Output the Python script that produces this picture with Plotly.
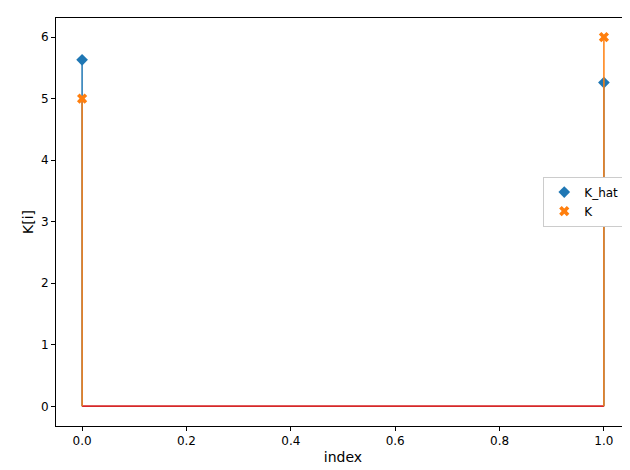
import plotly.graph_objects as go

index = [0, 1]
k_hat = [5.63, 5.26]
k = [5.0, 6.0]

blue = "#1f77b4"
orange = "#ff7f0e"
red = "#d62728"

def stem_xy(xs, ys):
    sx, sy = [], []
    for x, y in zip(xs, ys):
        sx += [x, x, None]
        sy += [0, y, None]
    return sx, sy

fig = go.Figure()
for name, vals, col, sym in [("K_hat", k_hat, blue, "diamond"), ("K", k, orange, "x")]:
    sx, sy = stem_xy(index, vals)
    fig.add_trace(go.Scatter(x=[min(index), max(index)], y=[0, 0], mode="lines",
                             line=dict(color=red, width=1.5), showlegend=False))
    fig.add_trace(go.Scatter(x=sx, y=sy, mode="lines", line=dict(color=col, width=1.5),
                             showlegend=False, hoverinfo="skip"))
    fig.add_trace(go.Scatter(x=index, y=vals, mode="markers", name=name,
                             marker=dict(color=col, symbol=sym, size=9)))

axis = dict(showgrid=False, zeroline=False, showline=True, mirror=True, linecolor="black",
            ticks="outside", tickcolor="black", ticklen=4, automargin=False)
fig.update_xaxes(range=[-0.05, 1.05], dtick=0.2, tickformat=".1f",
                 title=dict(text="index", standoff=4), **axis)
fig.update_yaxes(range=[-0.32, 6.31], dtick=1, title=dict(text="K[i]", standoff=4), **axis)
fig.update_layout(width=630, height=470, plot_bgcolor="white", paper_bgcolor="white",
                  margin=dict(l=48, r=8, t=10, b=52),
                  font=dict(family="DejaVu Sans", size=12, color="black"),
                  legend=dict(x=0.99, y=0.55, xanchor="right", yanchor="middle",
                              bordercolor="#ccc", borderwidth=1, bgcolor="white"))
fig.write_html("out.html")
